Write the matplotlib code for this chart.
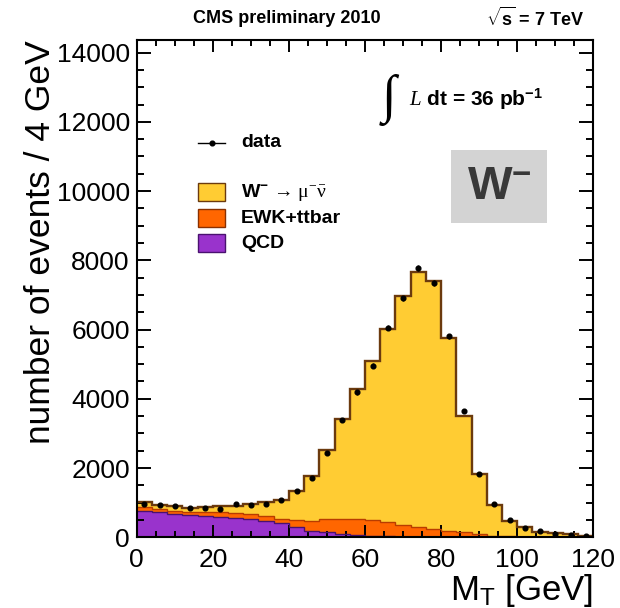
import matplotlib.pyplot as plt
from matplotlib.patches import Rectangle
from matplotlib.lines import Line2D
import numpy as np

plt.rcParams['font.family'] = ['Liberation Sans', 'DejaVu Sans']
plt.rcParams['mathtext.fontset'] = 'custom'
plt.rcParams['mathtext.rm'] = 'Liberation Serif'
plt.rcParams['mathtext.it'] = 'Liberation Serif:italic'
plt.rcParams['mathtext.bf'] = 'Liberation Sans:bold'
plt.rcParams['mathtext.sf'] = 'Liberation Sans'

# binning: 4 GeV bins from 0 to 120 GeV
BIN_LO, BIN_HI, BIN_W = 0, 120, 4

# stacked MC (events / 4 GeV)
qcd = [773, 727, 669, 640, 620, 600, 570, 523, 465, 407, 291, 194, 145, 105, 67,
       45, 30, 20, 15, 10, 8, 6, 5, 4, 3, 2, 2, 1, 1, 1]
ewk = [99, 104, 104, 104, 115, 127, 128, 146, 155, 134, 212, 289, 378, 436, 474,
       458, 406, 338, 276, 231, 175, 139, 82, 46, 27, 18, 13, 9, 7, 4]
wmu = [134, 108, 117, 116, 135, 163, 212, 291, 386, 543, 823, 1279, 1986, 2889, 3732,
       4593, 5570, 6607, 7372, 7151, 5573, 3361, 1733, 869, 444, 270, 148, 106, 79, 42]
data = [968, 939, 890, 843, 843, 831, 968, 939, 968, 1064, 1326, 1705, 2431, 3381, 4186,
        4951, 6055, 6898, 7790, 7355, 5802, 3651, 1831, 968, 494, 280, 183, 87, 67, 38]

edges = np.arange(BIN_LO, BIN_HI + BIN_W, BIN_W)
centers = 0.5 * (edges[:-1] + edges[1:])
qcd = np.array(qcd, dtype=float)
ewk_top = qcd + np.array(ewk)
w_top = ewk_top + np.array(wmu)
data = np.array(data, dtype=float)

fig = plt.figure(figsize=(6.2, 6.08), dpi=100)
ax = fig.add_axes([0.2205, 0.1163, 0.7365, 0.8171])

# --- stacked histograms, ROOT style (fill + darker outline) ---
ax.stairs(w_top, edges, baseline=ewk_top, fill=True, color='#ffcc33', zorder=1)
ax.stairs(ewk_top, edges, baseline=qcd, fill=True, color='#ff6600', zorder=1)
ax.stairs(qcd, edges, baseline=0, fill=True, color='#9933cc', zorder=1)
ax.stairs(w_top, edges, baseline=None, color='#6b3a0e', lw=1.7, zorder=2)
ax.stairs(ewk_top, edges, baseline=None, color='#b83c00', lw=1.0, zorder=2)
ax.stairs(qcd, edges, baseline=None, color='#4a1270', lw=1.0, zorder=2)

# data points with poisson errors
ax.errorbar(centers, data, yerr=np.sqrt(data), fmt='o', color='black', ms=3.4,
            elinewidth=1.0, capsize=0, zorder=3)

ax.set_xlim(BIN_LO, BIN_HI)
ax.set_ylim(0, 14350)
ax.set_xticks(np.arange(0, 121, 20))
ax.set_xticks(np.arange(0, 121, 5), minor=True)
ax.set_yticks(np.arange(0, 14001, 2000))
ax.set_yticks(np.arange(0, 14351, 500), minor=True)

for s in ax.spines.values():
    s.set_linewidth(1.5)
ax.tick_params(axis='both', which='both', direction='in', top=True, right=True,
               width=1.4, labelsize=19)
ax.tick_params(axis='x', which='major', length=8.6, pad=8)
ax.tick_params(axis='x', which='minor', length=4.3)
ax.tick_params(axis='y', which='major', length=10, pad=5)
ax.tick_params(axis='y', which='minor', length=5)

ax.set_ylabel('number of events / 4 GeV', fontsize=25.5, loc='top', labelpad=0)
ax.set_xlabel(r'M$_{\mathsf{T}}$ [GeV]', fontsize=25, loc='right', labelpad=0)

# header texts
fig.text(0.311, 0.970, 'CMS preliminary 2010', fontsize=13, fontweight='bold',
         ha='left', va='center')
fig.text(0.943, 0.970, r'$\sqrt{\mathbf{s}}$ = 7 TeV', fontsize=13, fontweight='bold',
         ha='right', va='center')


def axfrac(px, py):
    # pixel position in the 620x608 picture -> axes fraction
    return (px - 136.7) / 456.6, (537.3 - py) / 496.8


# integrated luminosity
x, y = axfrac(389, 100)
ax.text(x, y, '\u222b', transform=ax.transAxes, fontsize=38, ha='center', va='center',
        family=['Liberation Serif', 'DejaVu Serif'])
x, y = axfrac(409, 99)
ax.text(x, y, r'$L$ dt = 36 pb$^{\mathbf{-1}}$', transform=ax.transAxes, fontsize=15,
        fontweight='bold', ha='left', va='center')

# W- label box
x0, y1 = axfrac(450.7, 150)
x1, y0 = axfrac(547.3, 223.3)
ax.add_patch(Rectangle((x0, y0), x1 - x0, y1 - y0, transform=ax.transAxes,
                       facecolor='#d3d3d3', edgecolor='none', zorder=4))
x, y = axfrac(499, 187)
ax.text(x, y, r'W$^{\mathbf{-}}$', transform=ax.transAxes, fontsize=34, fontweight='bold',
        color='#383838', ha='center', va='center', zorder=5)

# legend
lx0, _ = axfrac(198.3, 0)
lx1, _ = axfrac(225, 0)
tx, _ = axfrac(241, 0)
_, ly = axfrac(0, 143)
ax.add_line(Line2D([lx0, lx1], [ly, ly], transform=ax.transAxes, color='black', lw=1.0))
ax.plot([(lx0 + lx1) / 2], [ly], 'o', transform=ax.transAxes, color='black', ms=3.4)
ax.text(tx, ly, 'data', transform=ax.transAxes, fontsize=14, fontweight='bold',
        ha='left', va='center')

entries = [('#ffcc33', '#6b3a0e',
            r'$\mathbf{W}^{\mathbf{-}}\,\rightarrow\,\mathrm{\mu}^{-}\bar{\mathrm{\nu}}$', 192.3),
           ('#ff6600', '#8a3000', 'EWK+ttbar', 218.3),
           ('#9933cc', '#4a1270', 'QCD', 243.3)]
for fc, ec, label, py in entries:
    _, yc = axfrac(0, py)
    _, hh = axfrac(0, 537.3 - 18)
    ax.add_patch(Rectangle((lx0, yc - hh / 2), lx1 - lx0, hh, transform=ax.transAxes,
                           facecolor=fc, edgecolor=ec, lw=1.0))
    ax.text(tx, yc, label, transform=ax.transAxes, fontsize=14, fontweight='bold',
            ha='left', va='center')

fig.savefig('out.png', dpi=100)
